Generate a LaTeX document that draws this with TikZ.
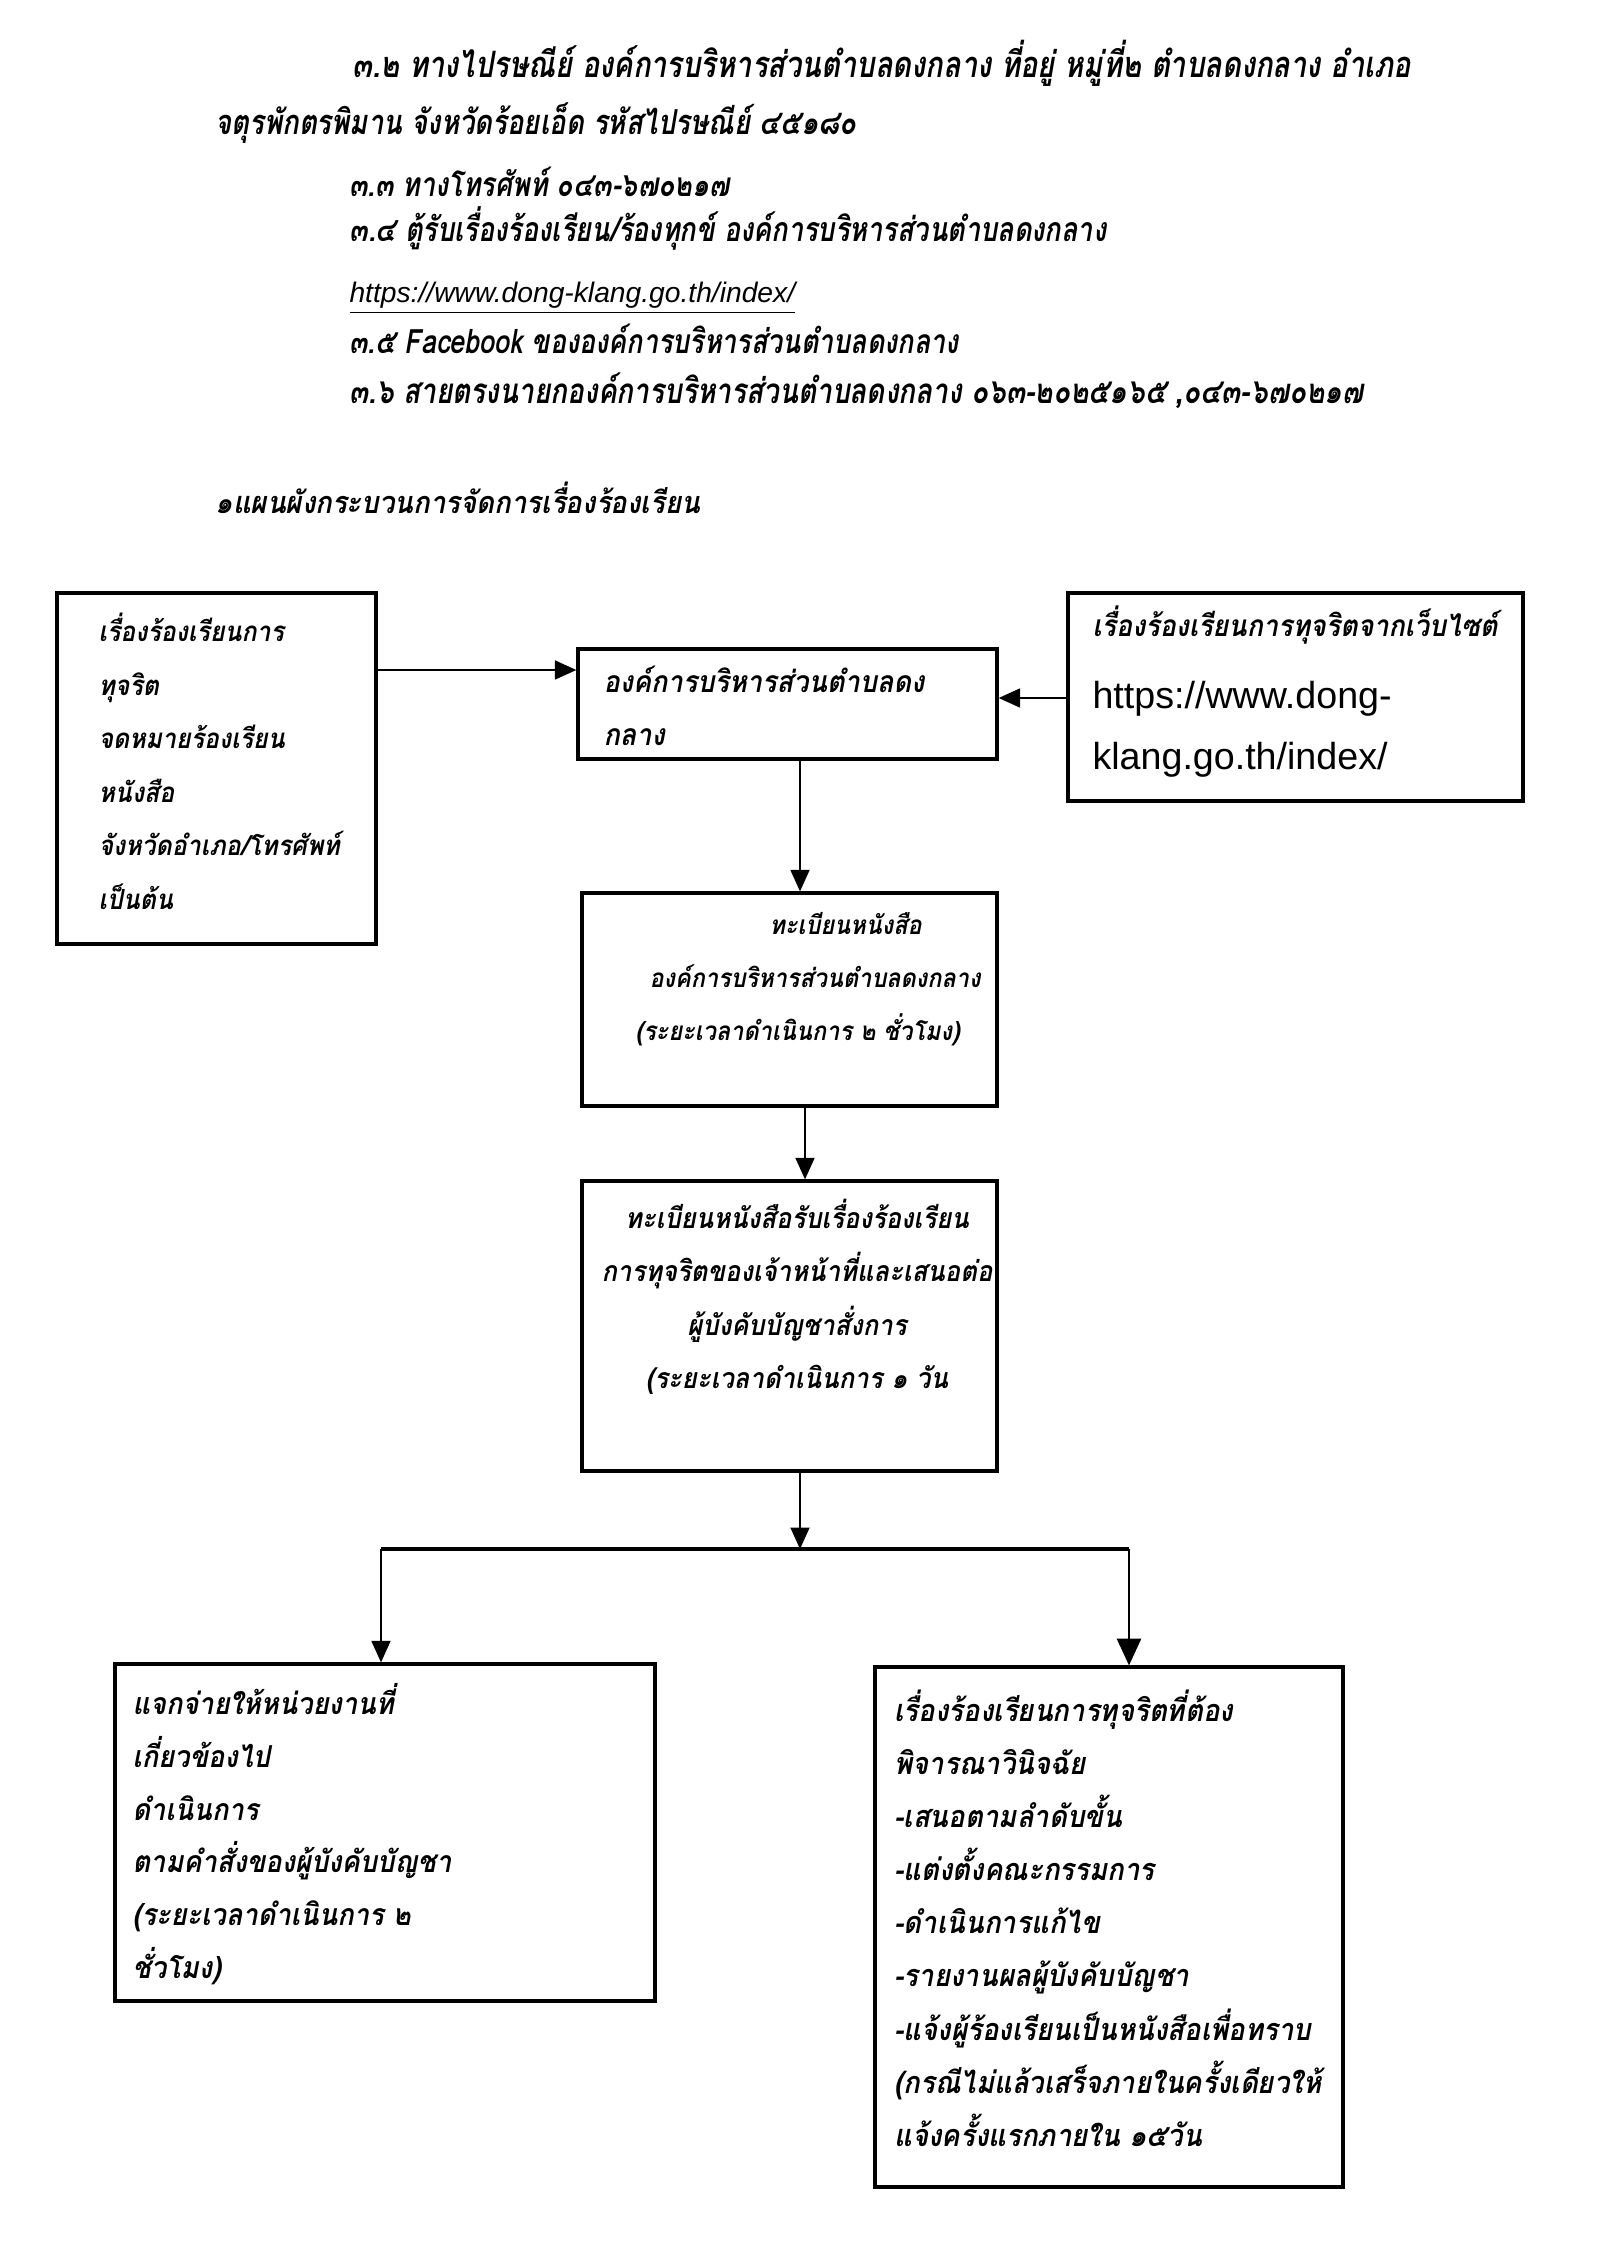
\documentclass[tikz,border=0pt]{standalone}
\usepackage{fontspec}
\newfontfamily\thai[Script=Thai,FakeStretch=0.9]{Loma}
\newfontfamily\thaitop[Script=Thai,FakeStretch=0.8]{Loma}
\newfontfamily\urlfont{Liberation Sans}
\usetikzlibrary{arrows.meta}
\begin{document}
\begin{tikzpicture}[x=0.372pt,y=-0.372pt,
  box/.style={draw,line width=1.2pt,inner sep=0pt},
  arr/.style={-{Triangle[width=7pt,length=8pt]},line width=0.9pt},
  arrbig/.style={-{Triangle[width=9pt,length=10pt]},line width=0.9pt},
  tx/.style={font=\thai\bfseries\itshape\fontsize{#1}{12}\selectfont,inner sep=0pt,text height=7.5pt,text depth=2pt,anchor=west},
  txc/.style={tx=#1,anchor=center},
  top/.style={font=\thaitop\bfseries\itshape\fontsize{#1}{14}\selectfont,inner sep=0pt,text height=8.5pt,text depth=2.5pt,anchor=west},
  url/.style={font=\urlfont\fontsize{14}{16}\selectfont,inner sep=0pt,text height=10pt,text depth=0pt,anchor=west}]
\useasboundingbox[fill=white] (0,0) rectangle (1599,2253);
% top text
\node[top=13.5] (t1) at (352,69) {๓.๒ ทางไปรษณีย์ องค์การบริหารส่วนตำบลดงกลาง ที่อยู่ หมู่ที่๒ ตำบลดงกลาง อำเภอ};
\node[top=12.8] (t2) at (215,126) {จตุรพักตรพิมาน จังหวัดร้อยเอ็ด รหัสไปรษณีย์ ๔๕๑๘๐};
\node[top=12.5] (t3) at (349,188) {๓.๓ ทางโทรศัพท์ ๐๔๓-๖๗๐๒๑๗};
\node[top=12.6] (t4) at (349,233) {๓.๔ ตู้รับเรื่องร้องเรียน/ร้องทุกข์ องค์การบริหารส่วนตำบลดงกลาง};
\node[url,font=\urlfont\itshape\fontsize{10.5}{13}\selectfont] (t5) at (349,289) {\underline{https://www.dong-klang.go.th/index/}};
\node[top=12.5] (t6) at (349,345) {๓.๕ Facebook ขององค์การบริหารส่วนตำบลดงกลาง};
\node[top=13] (t7) at (349,395) {๓.๖ สายตรงนายกองค์การบริหารส่วนตำบลดงกลาง ๐๖๓-๒๐๒๕๑๖๕ ,๐๔๓-๖๗๐๒๑๗};
\node[tx=11.4] (hd) at (215,506) {๑แผนผังกระบวนการจัดการเรื่องร้องเรียน};
% boxes
\node[box,minimum width=319*0.372pt,minimum height=351*0.372pt] (lt) at (216.5,768.5) {};
\node[box,minimum width=419*0.372pt,minimum height=110*0.372pt] (b1) at (787.5,704) {};
\node[box,minimum width=455*0.372pt,minimum height=208*0.372pt] (rt) at (1295.5,697) {};
\node[box,minimum width=415*0.372pt,minimum height=213*0.372pt] (b2) at (789.5,999.5) {};
\node[box,minimum width=415*0.372pt,minimum height=290*0.372pt] (b3) at (789.5,1326) {};
\node[box,minimum width=540*0.372pt,minimum height=337*0.372pt] (lb) at (385,1832.5) {};
\node[box,minimum width=468*0.372pt,minimum height=520*0.372pt] (rb) at (1109,1927) {};
% box texts
\foreach \t [count=\i] in {{เรื่องร้องเรียนการ},{ทุจริต},{จดหมายร้องเรียน},{หนังสือ},{จังหวัดอำเภอ/โทรศัพท์},{เป็นต้น}}
  \node[tx=10.3] (lt\i) at (98,{634+(\i-1)*53.6}) {\t};
\node[tx=11.2] (b1a) at (603,685) {องค์การบริหารส่วนตำบลดง};
\node[tx=11.2] (b1b) at (603,738) {กลาง};
\node[tx=11.1] (rta) at (1092,629) {เรื่องร้องเรียนการทุจริตจากเว็บไซต์};
\node[url] (rtb) at (1092,695) {https://www.dong-};
\node[url] (rtc) at (1092,756) {klang.go.th/index/};
\node[tx=9.7] (b2a) at (769,927) {ทะเบียนหนังสือ};
\node[tx=9.7] (b2b) at (649,980) {องค์การบริหารส่วนตำบลดงกลาง};
\node[tx=9.7] (b2c) at (635,1033) {(ระยะเวลาดำเนินการ ๒ ชั่วโมง)};
\foreach \t [count=\i] in {{ทะเบียนหนังสือรับเรื่องร้องเรียน},{การทุจริตของเจ้าหน้าที่และเสนอต่อ},{ผู้บังคับบัญชาสั่งการ},{(ระยะเวลาดำเนินการ ๑ วัน}}
  \node[txc=10.6] (b3\i) at (797,{1221+(\i-1)*53.3}) {\t};
\foreach \t [count=\i] in {{แจกจ่ายให้หน่วยงานที่},{เกี่ยวข้องไป},{ดำเนินการ},{ตามคำสั่งของผู้บังคับบัญชา},{(ระยะเวลาดำเนินการ ๒},{ชั่วโมง)}}
  \node[tx=11.25] (lb\i) at (132,{1707+(\i-1)*52.8}) {\t};
\foreach \t [count=\i] in {{เรื่องร้องเรียนการทุจริตที่ต้อง},{พิจารณาวินิจฉัย},{-เสนอตามลำดับขั้น},{-แต่งตั้งคณะกรรมการ},{-ดำเนินการแก้ไข},{-รายงานผลผู้บังคับบัญชา},{-แจ้งผู้ร้องเรียนเป็นหนังสือเพื่อทราบ},{(กรณีไม่แล้วเสร็จภายในครั้งเดียวให้},{แจ้งครั้งแรกภายใน ๑๕วัน}}
  \node[tx=11.4] (rb\i) at (894,{1714+(\i-1)*53.1}) {\t};
% connectors
\coordinate (pL) at (376,670);
\coordinate (pR) at (1068,698);
\coordinate (ax1) at (800,0);
\coordinate (ax2) at (805,0);
\coordinate (j) at (800,1549);
\coordinate (jl) at (381,1549);
\coordinate (jr) at (1129,1549);
\draw[arr] (pL) -- (pL -| b1.west);
\draw[arr] (pR) -- (pR -| b1.east);
\draw[arr] (b1.south -| ax1) -- (b2.north -| ax1);
\draw[arr] (b2.south -| ax2) -- (b3.north -| ax2);
\draw[arr] (b3.south -| j) -- (j);
\draw[line width=1.6pt] (jl) -- (jr);
\draw[arr] (jl) -- (jl |- lb.north);
\draw[arrbig] (jr) -- (jr |- rb.north);
\end{tikzpicture}
\end{document}
